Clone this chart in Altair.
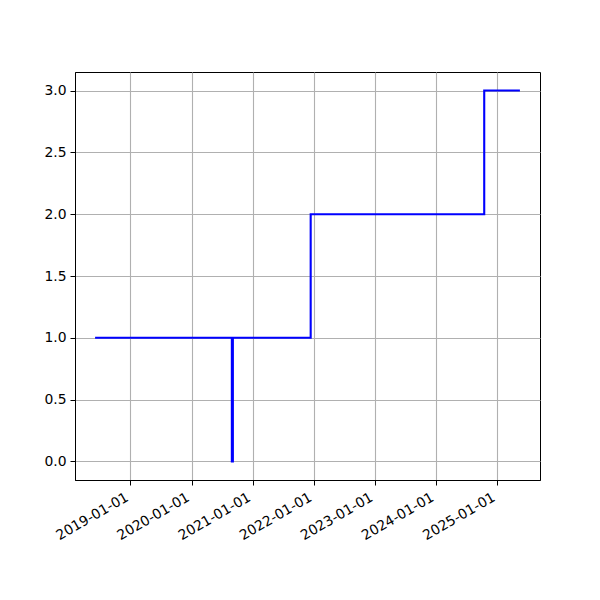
import altair as alt
import pandas as pd

dates = ["2018-06-10", "2020-08-29", "2020-09-04", "2021-12-13", "2024-10-15", "2025-05-10"]
values = [1, 0, 1, 2, 3, 3]
tick_years = [2019, 2020, 2021, 2022, 2023, 2024, 2025]
y_ticks = [0.0, 0.5, 1.0, 1.5, 2.0, 2.5, 3.0]

df = pd.DataFrame({"date": dates, "value": values})

t = pd.to_datetime(df["date"])
span = t.max() - t.min()
d0 = t.min() - span * 0.05
d1 = t.max() + span * 0.05
to_ms = lambda ts: int(ts.value // 10**6)

x_domain = [to_ms(d0), to_ms(d1)]
x_vals = [alt.DateTime(year=y, month=1, date=1, utc=True) for y in tick_years]

font = "DejaVu Sans"

chart = alt.Chart(df).mark_line(
    interpolate="step-after", color="#0000ff", strokeWidth=2.1, strokeCap="square"
).encode(
    x=alt.X(
        "date:T",
        scale=alt.Scale(type="utc", domain=x_domain),
        axis=alt.Axis(
            values=x_vals,
            labelExpr="utcFormat(datum.value, '%Y-%m-%d')",
            labelAngle=-30,
            labelAlign="right",
            labelBaseline="top",
            labelOverlap=False,
            labelOffset=-7,
            labelPadding=5,
            title=None,
            grid=True,
        ),
    ),
    y=alt.Y(
        "value:Q",
        scale=alt.Scale(domain=[-0.15, 3.15], nice=False, zero=False),
        axis=alt.Axis(values=y_ticks, format=".1f", title=None, grid=True, labelPadding=4),
    ),
).properties(
    width=465,
    height=408,
    autosize=alt.AutoSizeParams(type="none"),
    padding={"left": 67, "top": 64, "right": 52, "bottom": 112},
).configure_view(
    stroke="black", strokeWidth=1
).configure_axis(
    gridColor="#b0b0b0",
    gridWidth=1.1,
    domainColor="black",
    domainWidth=1,
    tickColor="black",
    tickSize=5,
    tickWidth=1,
    labelFont=font,
    labelFontSize=13.9,
    labelColor="black",
)

chart.save("out.html", embed_options={"renderer": "svg", "actions": False})
